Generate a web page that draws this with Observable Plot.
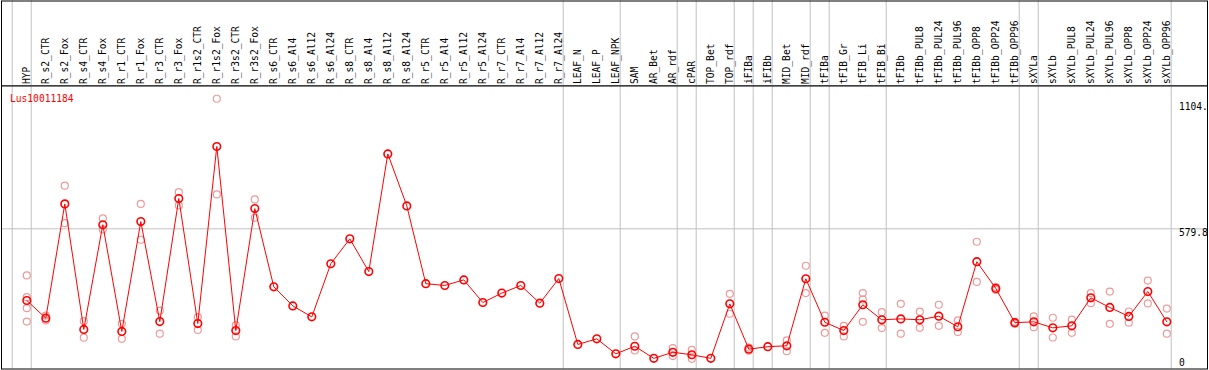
<!DOCTYPE html>
<html><head><meta charset="utf-8">
<script src="https://cdn.jsdelivr.net/npm/d3@7"></script>
<script src="https://cdn.jsdelivr.net/npm/@observablehq/plot@0.6"></script>
<style>
body{margin:0;background:#fff;}
#chart svg{display:block;}
#chart svg.main{margin-top:-1px;}
</style></head><body><div id="chart"></div>
<script>
const geneId = "Lus10011184";
const categories = ["HYP","R_s2_CTR","R_s2_Fox","R_s4_CTR","R_s4_Fox","R_r1_CTR","R_r1_Fox","R_r3_CTR","R_r3_Fox","R_r1s2_CTR","R_r1s2_Fox","R_r3s2_CTR","R_r3s2_Fox","R_s6_CTR","R_s6_Al4","R_s6_Al12","R_s6_Al24","R_s8_CTR","R_s8_Al4","R_s8_Al12","R_s8_Al24","R_r5_CTR","R_r5_Al4","R_r5_Al12","R_r5_Al24","R_r7_CTR","R_r7_Al4","R_r7_Al12","R_r7_Al24","LEAF_N","LEAF_P","LEAF_NPK","SAM","AR_Bet","AR_rdf","cPAR","TOP_Bet","TOP_rdf","iFIBa","iFIBb","MID_Bet","MID_rdf","tFIBa","tFIB_Gr","tFIB_Li","tFIB_Bi","tFIBb","tFIBb_PUL8","tFIBb_PUL24","tFIBb_PUL96","tFIBb_OPP8","tFIBb_OPP24","tFIBb_OPP96","sXYLa","sXYLb","sXYLb_PUL8","sXYLb_PUL24","sXYLb_PUL96","sXYLb_OPP8","sXYLb_OPP24","sXYLb_OPP96"];
const means = [260,181,691,131,598,122,612,166,715,157,947,126,670,321,236,187,424,535,389,914,682,335,327,352,251,293,327,248,358,64,89,22,56,2,29,18,2,245,43,54,58,357,163,126,241,174,178,174,190,143,433,314,161,165,138,147,272,229,189,300,165];
const replicates = [[372,275,226,166],[193,171],[772,605],[168,94],[626,577],[156,89],[691,531],[215,112],[743,684],[186,129],[1160,733],[149,100],[711,629],[],[],[],[],[],[],[],[],[],[],[],[],[],[],[],[],[],[],[],[100,37],[],[48,12],[40,0],[],[290,201],[50,36],[],[82,34],[415,293],[193,116],[147,100],[293,265,165],[208,137],[245,112],[210,138],[241,147],[171,120],[522,343],[320,307],[165,156],[189,141],[183,95],[175,116],[293,248],[300,156],[211,161],[349,247],[224,112]];
const separatorsAfter = [-1,0,28,31,34,35,37,38,39,41,42,45,52,53,60];
const yTicks = [0, 579.8];
const gridValues = [579.8];
const topLabel = "1104.";

const W = 1209;
const xScale = {type:"linear", domain:[-26.3/19, (W-26.3)/19], range:[0, W], axis:null};
const style = {fontFamily:"DejaVu Sans Mono", fontSize:"9.6px", background:"#fff", color:"#000"};
const idx = (d,i) => i;

const header = Plot.plot({
  width: W, height: 86, marginTop: 0.5, marginBottom: 0.5, marginLeft: 1, marginRight: 2,
  x: xScale, style,
  marks: [
    Plot.ruleX(separatorsAfter, {x: d => d, dx: 4.4, stroke: "#c0c0c0"}),
    Plot.text(categories, {x: idx, text: d => d, frameAnchor: "bottom", dy: -2, rotate: -90, textAnchor: "start", lineAnchor: "middle", fill: "#000"}),
    Plot.frame({stroke: "#000"})
  ]
});

const repRows = replicates.flatMap((arr, i) => arr.map(v => ({i, v})));

const chart = Plot.plot({
  width: W, height: 285, marginTop: 0.5, marginBottom: 1.5, marginLeft: 1, marginRight: 2,
  x: xScale,
  y: {domain: [-52.2, 1219.0], range: [285, 0], axis: null},
  style, className: "main",
  marks: [
    Plot.ruleX(separatorsAfter, {x: d => d, dx: 4.4, stroke: "#c0c0c0"}),
    Plot.ruleY(gridValues, {y: d => d, stroke: "#c0c0c0"}),
    Plot.dot(repRows, {x: "i", y: "v", r: 3.5, stroke: "#ef9a9a", strokeWidth: 1.2, fill: "none"}),
    Plot.line(means, {x: idx, y: d => d, stroke: "#ff0000", strokeWidth: 1}),
    Plot.dot(means, {x: idx, y: d => d, r: 3.8, stroke: "#ff0000", strokeWidth: 1.6, fill: "none"}),
    Plot.text([geneId], {text: d => d, frameAnchor: "top-left", dx: 8.5, dy: 13.2, textAnchor: "start", lineAnchor: "middle", fill: "#ff0000"}),
    Plot.text(yTicks, {y: d => d, text: d => String(d), frameAnchor: "right", dx: -28.5, textAnchor: "start", lineAnchor: "top", dy: 0.7, fill: "#000"}),
    Plot.text([topLabel], {text: d => d, frameAnchor: "top-right", dx: -28.5, dy: 17.5, textAnchor: "start", lineAnchor: "top", fill: "#000"}),
    Plot.frame({stroke: "#000"})
  ]
});
chart.classList.add("main");
document.getElementById("chart").append(header, chart);
</script></body></html>
